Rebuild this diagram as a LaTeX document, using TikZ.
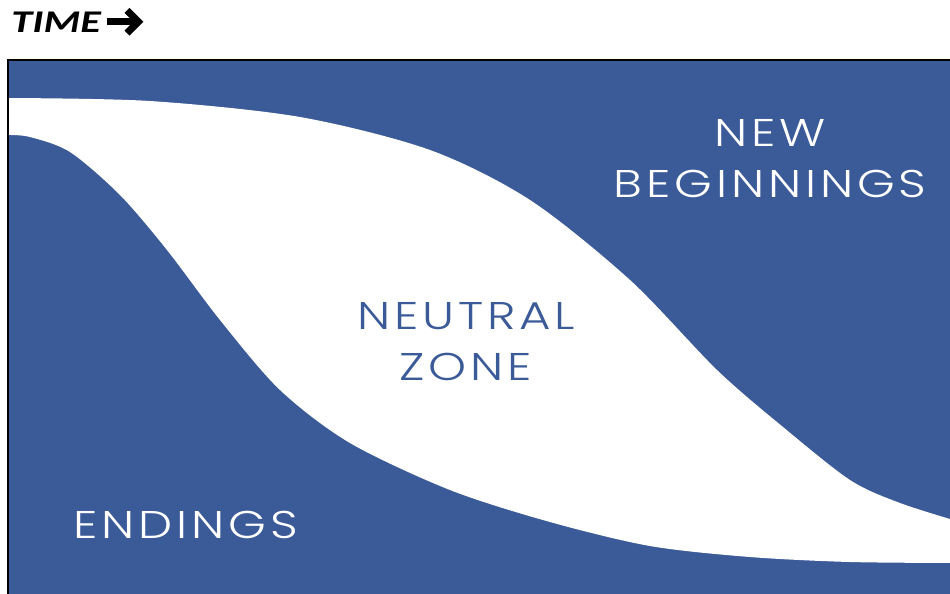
\documentclass[tikz,border=0pt]{standalone}
\usepackage{fontspec}
\setmainfont{Carlito}
\IfFontExistsTF{Poppins Light}
  {\newfontfamily\zonefont[LetterSpace=8]{Poppins Light}}
  {\newfontfamily\zonefont[LetterSpace=8]{Poppins}}
\usetikzlibrary{positioning, arrows.meta}
\definecolor{zoneblue}{RGB}{58,90,152}
\tikzset{
  phase/.style={
    font=\zonefont\fontsize{22}{29}\selectfont, text=white,
    align=center, inner sep=0pt, xscale=1.25, transform shape
  },
  neutral/.style={phase, text=zoneblue},
  heading/.style={
    font=\bfseries\itshape\fontsize{18}{20}\selectfont, inner sep=0pt,
    xscale=1.33, transform shape
  },
  timearrow/.style={
    line width=4pt,
    -{Straight Barb[length=6.5pt, width=13pt, line width=4pt]}
  }
}

\begin{document}
\begin{tikzpicture}[x=0.02cm, y=-0.02cm]
  \useasboundingbox (0,0) rectangle (950,593);
  \clip (0,0) rectangle (950,593);

  % panel and the white band between the two phases
  \fill[zoneblue] (8,60) rectangle (960,600);
  \fill[white]
    plot[smooth, tension=0.5] coordinates {
      (8,98) (150,101) (300,117) (430,150) (530,200) (630,280)
      (717,370) (783,427) (850,480) (900,503) (960,522)}
    -- plot[smooth, tension=0.5] coordinates {
      (960,563) (850,562) (750,557) (650,546) (550,522) (450,490)
      (350,443) (280,390) (220,320) (167,250) (120,195) (70,152)
      (30,137) (8,135)}
    -- cycle;
  \draw[line width=1.2pt] (8,600) -- (8,60) -- (960,60);

  \node[heading, anchor=base west] (time) at (11,32) {TIME};
  \coordinate[right=3pt of time.east] (arrowtail);
  \coordinate[right=21pt of arrowtail] (arrowtip);
  \draw[timearrow] (arrowtail) -- (arrowtip);

  \node[phase] (begin) at (770,159) {NEW\\BEGINNINGS};
  \node[neutral] (zone) at (466,342) {NEUTRAL\\ZONE};
  \node[phase] (end) at (186,525) {ENDINGS};
\end{tikzpicture}
\end{document}
